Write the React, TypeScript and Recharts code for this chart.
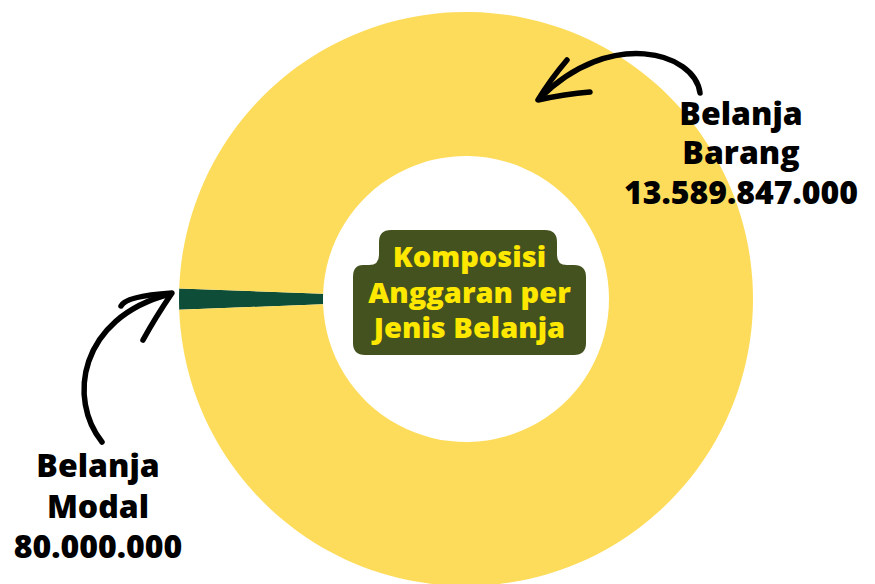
import React from "react";
import { PieChart, Pie, Cell } from "recharts";

const categories = ["Belanja Modal", "Belanja Barang"];
const values = [80000000, 13589847000];
const colors = ["#0E4D38", "#FEDC5B"];
const centerTitle = ["Komposisi", "Anggaran per", "Jenis Belanja"];

const data = categories.map((name, i) => ({ name, value: values[i] }));

const fmt = (v: number) => String(v).replace(/\B(?=(\d{3})+(?!\d))/g, ".");

const FONT = "'Open Sans', 'Noto Sans', sans-serif";

function LabelBlock({ x, ys, idx }: { x: number; ys: number[]; idx: number }) {
  const words = categories[idx].split(" ");
  const lines = [words[0], words.slice(1).join(" "), fmt(values[idx])];
  return (
    <g>
      {lines.map((t, i) => (
        <text
          key={i}
          x={x}
          y={ys[i]}
          textAnchor="middle"
          fontFamily={FONT}
          fontWeight={800}
          fontSize={32}
          fill="#000"
        >
          {t}
        </text>
      ))}
    </g>
  );
}

export default function App() {
  return (
    <div style={{ position: "absolute", left: 0, top: 0, width: 875, height: 584, background: "#fff", overflow: "hidden" }}>
      <PieChart width={875} height={584} margin={{ top: 0, right: 0, bottom: 0, left: 0 }}>
        <Pie
          data={data}
          dataKey="value"
          nameKey="name"
          cx={466}
          cy={299}
          innerRadius={143}
          outerRadius={287}
          startAngle={177.9}
          endAngle={537.9}
          minAngle={2.15}
          stroke="none"
          isAnimationActive={false}
        >
          {data.map((d, i) => (
            <Cell key={d.name} fill={colors[i]} />
          ))}
        </Pie>
      </PieChart>
      <svg
        width={875}
        height={584}
        style={{ position: "absolute", left: 0, top: 0, pointerEvents: "none" }}
      >
        <path
          d="M 391 230 H 545 Q 557 230 557 242 V 255 Q 557 265 567 265 H 574 Q 586 265 586 277 V 343 Q 586 355 574 355 H 365 Q 353 355 353 343 V 277 Q 353 265 363 265 H 369 Q 379 265 379 255 V 242 Q 379 230 391 230 Z"
          fill="#44521F"
        />
        {centerTitle.map((t, i) => (
          <text
            key={i}
            x={469.5}
            y={[267, 303, 338][i]}
            textAnchor="middle"
            fontFamily={FONT}
            fontWeight={800}
            fontSize={29}
            fill="#FFE800"
          >
            {t}
          </text>
        ))}
        <g fill="none" stroke="#000" strokeWidth={5.5} strokeLinecap="round" strokeLinejoin="round">
          <path d="M 700 93 C 695 52, 610 28, 540 98" />
          <path d="M 567 60 Q 550 80, 538 100 Q 565 94, 590 92" />
          <path d="M 102 442 C 68 400, 78 318, 170 294" />
          <path d="M 121 306 Q 126 296, 172 293 Q 155 318, 143 340" />
        </g>
        <LabelBlock x={741} ys={[125, 164, 204]} idx={1} />
        <LabelBlock x={98} ys={[477, 518, 558]} idx={0} />
      </svg>
    </div>
  );
}
